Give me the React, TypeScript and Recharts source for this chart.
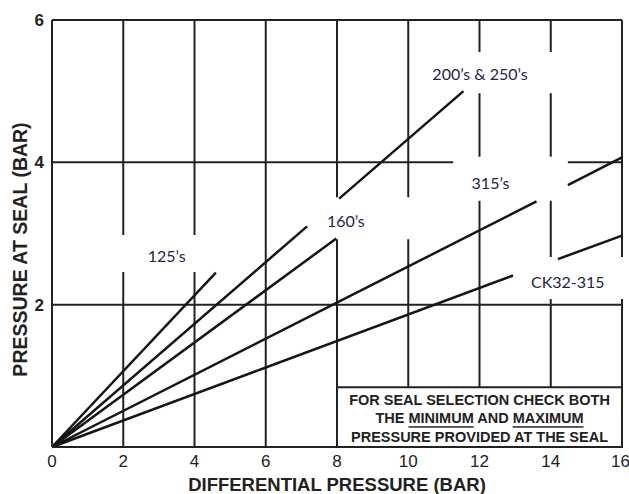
import React from 'react';
import {
  LineChart,
  Line,
  XAxis,
  YAxis,
  CartesianGrid,
  ReferenceArea,
} from 'recharts';

// tick labels
const xTicks = [0, 2, 4, 6, 8, 10, 12, 14, 16];
const yTicks = [2, 4, 6];

// seal curves (gaps where the label boxes cover them)
const seal125 = [
  { x: 0, y: 0 },
  { x: 4.6, y: 2.45 },
];
const seal200 = [
  { x: 0, y: 0 },
  { x: 7.16, y: 3.1 },
  { x: 7.6, y: null },
  { x: 8.06, y: 3.49 },
  { x: 11.55, y: 5.0 },
];
const seal160 = [
  { x: 0, y: 0 },
  { x: 7.98, y: 2.93 },
];
const seal315 = [
  { x: 0, y: 0 },
  { x: 13.6, y: 3.45 },
  { x: 14, y: null },
  { x: 14.48, y: 3.68 },
  { x: 16, y: 4.07 },
];
const sealCK = [
  { x: 0, y: 0 },
  { x: 12.94, y: 2.41 },
  { x: 13.5, y: null },
  { x: 14.2, y: 2.64 },
  { x: 16, y: 2.97 },
];

// white label boxes: [x1, x2, y1, y2, text, dx, dy]
const labelBoxes: [number, number, number, number, string, number, number][] = [
  [1.6, 4.95, 2.46, 2.98, '125’s', -2, 2.5],
  [7.16, 10.35, 2.92, 3.51, '160’s', -18, 2],
  [10.45, 14.7, 4.97, 5.55, '200’s & 250’s', -20, 0.5],
  [11.26, 14.48, 3.46, 4.08, '315’s', -20, 4],
  [12.94, 16.3, 2.08, 2.67, 'CK32-315', -5, 4],
];

const ink = '#151515';
const sans = '"Liberation Sans", Arial, sans-serif';

function BoxLabel(props: any) {
  const { viewBox, text, dx, dy } = props;
  if (!viewBox) return null;
  const cx = viewBox.x + viewBox.width / 2 + dx;
  const cy = viewBox.y + viewBox.height / 2 + dy;
  return (
    <text
      x={cx}
      y={cy}
      textAnchor="middle"
      dominantBaseline="central"
      fontFamily="Lato, 'Open Sans', sans-serif"
      fontSize={16}
      fill="#1f2448"
    >
      {text}
    </text>
  );
}

function NoteLabel(props: any) {
  const { viewBox } = props;
  if (!viewBox) return null;
  const cx = viewBox.x + viewBox.width / 2;
  const top = viewBox.y;
  const common = {
    textAnchor: 'middle' as const,
    dominantBaseline: 'central' as const,
    fontFamily: sans,
    fontWeight: 'bold',
    fontSize: 14.5,
    fill: '#222',
  };
  return (
    <g>
      <text x={cx} y={top + 13} {...common}>
        FOR SEAL SELECTION CHECK BOTH
      </text>
      <text x={cx} y={top + 31} {...common}>
        THE <tspan textDecoration="underline">MINIMUM</tspan> AND{' '}
        <tspan textDecoration="underline">MAXIMUM</tspan>
      </text>
      <text x={cx} y={top + 50} {...common}>
        PRESSURE PROVIDED AT THE SEAL
      </text>
    </g>
  );
}

function XTitle(props: any) {
  const { viewBox } = props;
  if (!viewBox) return null;
  return (
    <text
      x={viewBox.x + viewBox.width / 2}
      y={viewBox.y + 37}
      textAnchor="middle"
      dominantBaseline="central"
      fontFamily={sans}
      fontWeight="bold"
      fontSize={18.5}
      fill="#222"
    >
      DIFFERENTIAL PRESSURE (BAR)
    </text>
  );
}

function YTitle(props: any) {
  const { viewBox } = props;
  if (!viewBox) return null;
  const x = viewBox.x + 20;
  const y = viewBox.y + viewBox.height / 2 + 16;
  return (
    <text
      x={x}
      y={y}
      transform={`rotate(-90 ${x} ${y})`}
      textAnchor="middle"
      dominantBaseline="central"
      fontFamily={sans}
      fontWeight="bold"
      fontSize={19.5}
      fill="#222"
    >
      PRESSURE AT SEAL (BAR)
    </text>
  );
}

export default function App() {
  const series = [seal125, seal200, seal160, seal315, sealCK];
  return (
    <div style={{ position: 'absolute', left: 0, top: 0, width: 629, height: 494, background: '#fff' }}>
      <LineChart width={629} height={494} margin={{ top: 20, right: 7, left: 0, bottom: 0 }}>
        <CartesianGrid stroke="#222" strokeWidth={2} />
        <XAxis
          type="number"
          dataKey="x"
          domain={[0, 16]}
          ticks={xTicks}
          height={47}
          tickLine={false}
          axisLine={{ stroke: '#222', strokeWidth: 2 }}
          tick={{ fontSize: 17, fill: '#222', fontFamily: sans }}
          label={<XTitle />}
        />
        <YAxis
          type="number"
          domain={[0, 6]}
          ticks={yTicks}
          width={52}
          tickLine={false}
          axisLine={{ stroke: '#222', strokeWidth: 2 }}
          tick={{ fontSize: 17, fill: '#222', fontFamily: sans, fontWeight: 'bold' }}
          label={<YTitle />}
        />
        {series.map((s, i) => (
          <Line
            key={i}
            data={s}
            dataKey="y"
            type="linear"
            stroke={ink}
            strokeWidth={2.5}
            dot={false}
            activeDot={false}
            isAnimationActive={false}
          />
        ))}
        {labelBoxes.map(([x1, x2, y1, y2, text, dx, dy], i) => (
          <ReferenceArea
            key={`box-${i}`}
            x1={x1}
            x2={x2}
            y1={y1}
            y2={y2}
            fill="#fff"
            fillOpacity={1}
            stroke="none"
            ifOverflow="visible"
            label={<BoxLabel text={text} dx={dx} dy={dy} />}
          />
        ))}
        <ReferenceArea
          x1={8}
          x2={16}
          y1={0}
          y2={0.84}
          fill="#fff"
          fillOpacity={1}
          stroke="#222"
          strokeWidth={2}
          ifOverflow="visible"
          label={<NoteLabel />}
        />
      </LineChart>
    </div>
  );
}
